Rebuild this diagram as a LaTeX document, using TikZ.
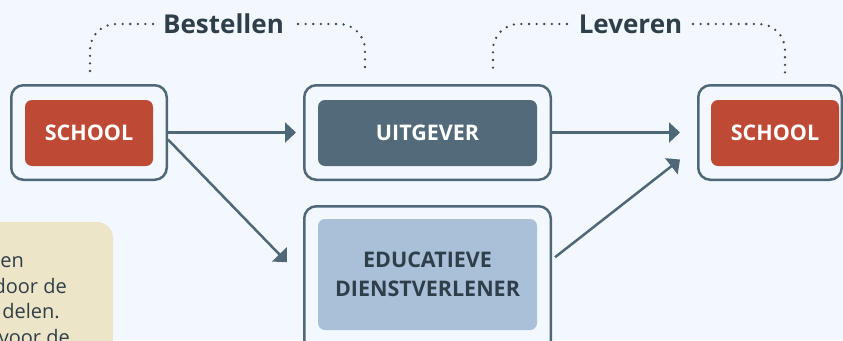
\documentclass[tikz,border=0pt]{standalone}
\usepackage{fontspec}
\setmainfont{Open Sans}
\usetikzlibrary{arrows.meta}
\definecolor{bg}{HTML}{F3F8FE}
\definecolor{edge}{HTML}{4F6878}
\definecolor{schoolred}{HTML}{BE4A36}
\definecolor{pubfill}{HTML}{526A7A}
\definecolor{edufill}{HTML}{A9C0D8}
\definecolor{notefill}{HTML}{EDE5C8}
\definecolor{ink}{HTML}{2F3F4A}
\definecolor{dotcol}{HTML}{34495E}
\begin{document}
\begin{tikzpicture}[x=1pt,y=-1pt,
  outerbox/.style={draw=edge,line width=2.5pt,rounded corners=12pt,fill=bg,inner sep=0pt},
  innerbox/.style={rounded corners=7pt,inner sep=0pt,minimum height=66pt,font=\bfseries\fontsize{21.5}{26}\selectfont},
  redbox/.style={innerbox,fill=schoolred,text=white,minimum width=128pt},
  pubbox/.style={innerbox,fill=pubfill,text=white,minimum width=219pt},
  edubox/.style={innerbox,fill=edufill,text=ink,minimum width=219pt,minimum height=111pt,align=center,font=\bfseries\fontsize{21.5}{29}\selectfont},
  arr/.style={draw=edge,line width=2.5pt,-{Triangle[length=11pt,width=20pt]}},
  dots/.style={draw=dotcol,line width=2.6pt,line cap=round,dash pattern=on 0pt off 7.6pt,rounded corners=26pt},
  title/.style={text=ink,font=\bfseries\fontsize{26}{30}\selectfont,inner sep=0pt,anchor=base},
  notetext/.style={text=ink,inner sep=0pt,anchor=base east,font=\fontsize{20}{24}\selectfont}]
\useasboundingbox (0,0) rectangle (843,340);
\fill[bg] (0,0) rectangle (843,340);
% note box (cropped)
\fill[notefill,rounded corners=16pt] (-30,222) rectangle (113,370);
\node[notetext] (n1) at (24,267) {en};
\node[notetext] (n2) at (67,293) {door de};
\node[notetext] (n3) at (60,318) {delen.};
\node[notetext] (n4) at (70,344) {voor de};
% boxes
\node[outerbox,minimum width=155.5pt,minimum height=94.5pt] (s1o) at (89,132.5) {};
\node[redbox] (s1) at (89,133) {SCHOOL};
\node[outerbox,minimum width=246.5pt,minimum height=94.5pt] (uo) at (427.5,132.5) {};
\node[pubbox] (u) at (427.5,133) {UITGEVER};
\node[outerbox,minimum width=143.5pt,minimum height=94.5pt] (s2o) at (770,132.5) {};
\node[redbox] (s2) at (775,133) {SCHOOL};
\node[outerbox,minimum width=246.5pt,minimum height=150pt] (eo) at (427.5,281.25) {};
\node[edubox] (e) at (427.5,274.5) {EDUCATIEVE\\DIENSTVERLENER};
% arrows
\draw[arr,shorten >=7pt] (s1o.east) -- (uo.west);
\draw[arr,shorten >=17pt] (uo.east) -- (s2o.west);
\draw[arr] ([yshift=-7pt]s1o.east) -- ([xshift=-16pt,yshift=19pt]eo.west);
\draw[arr] ([xshift=3pt,yshift=24pt]eo.east) -- ([xshift=-17pt,yshift=-27pt]s2o.west);
% titles with dotted brackets
\node[title] (best) at (223.5,33) {Bestellen};
\node[title] (lev) at (630.5,33) {Leveren};
\coordinate (b1) at (90,73);
\coordinate (b2) at (365,73);
\coordinate (l1) at (493,73);
\coordinate (l2) at (785,73);
\draw[dots] (153,24) -- (b1 |- 0,24) -- (b1);
\draw[dots] (298,24) -- (b2 |- 0,24) -- (b2);
\draw[dots] (567,24) -- (l1 |- 0,24) -- (l1);
\draw[dots] (693,24) -- (l2 |- 0,24) -- (l2);
\end{tikzpicture}
\end{document}
